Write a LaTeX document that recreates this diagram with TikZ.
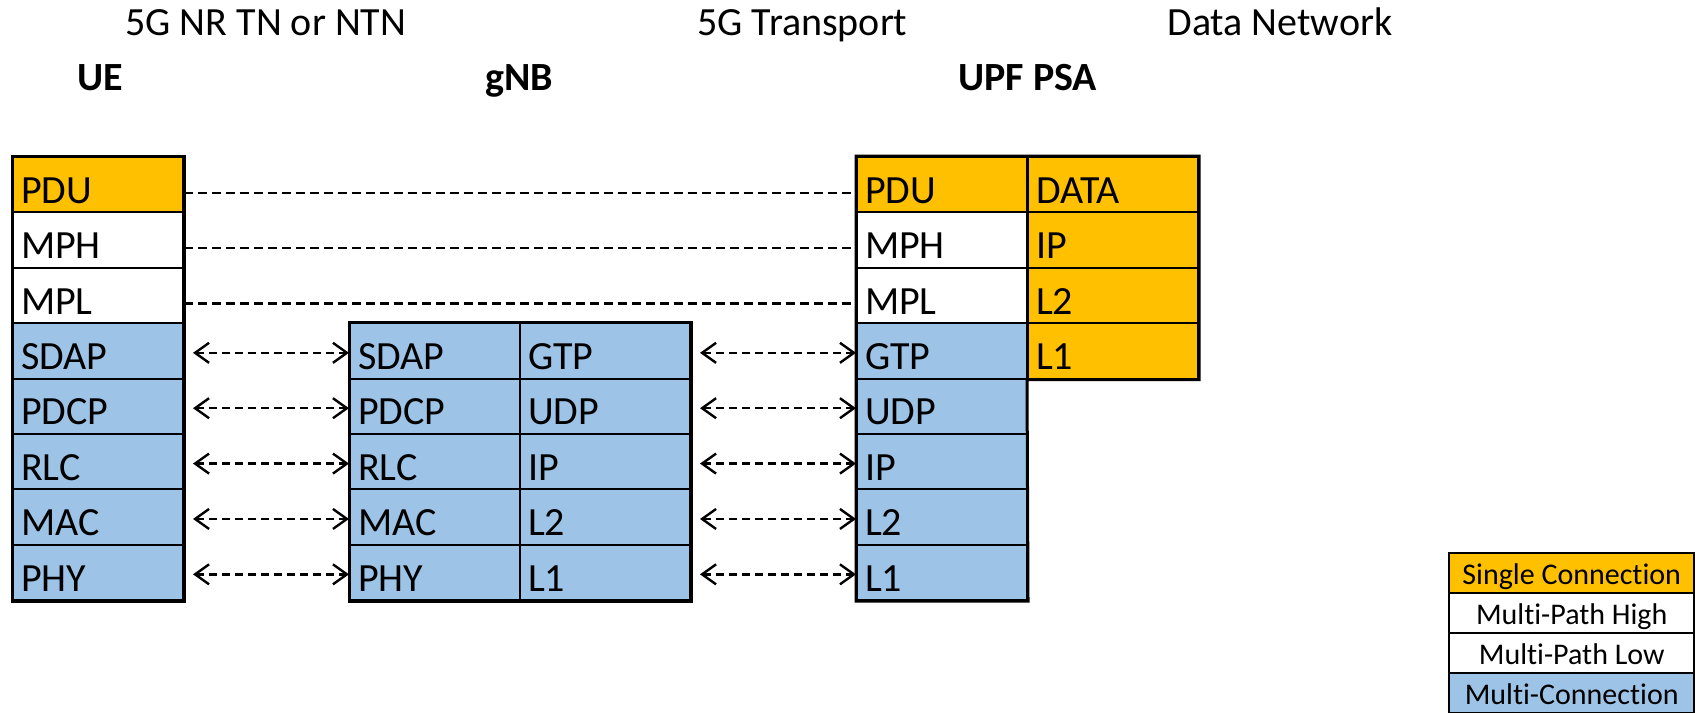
\documentclass[tikz,border=0pt]{standalone}
\usepackage{fontspec}
\setmainfont[Ligatures=NoCommon]{Carlito}
\usetikzlibrary{arrows.meta}

\definecolor{single}{HTML}{FFC000}
\definecolor{multi}{HTML}{9DC3E6}

\tikzset{
  % one layer of a protocol stack
  cell/.style={draw=black, line width=1pt, anchor=north west,
    inner xsep=4pt, inner ysep=0pt, minimum width=85pt,
    text width=77pt, align=left, text height=23.2pt, text depth=4.5pt,
    font=\fontsize{20pt}{24pt}\selectfont},
  sc/.style={cell, fill=single},
  mp/.style={cell, fill=white},
  mc/.style={cell, fill=multi},
  frame/.style={draw=black, line width=1.5pt},
  % legend entries
  key/.style={draw=black, line width=1.2pt, anchor=north west,
    inner xsep=2pt, inner ysep=0pt, minimum width=122.5pt,
    text height=15.5pt, text depth=4.5pt,
    font=\fontsize{15pt}{18pt}\selectfont},
  heading/.style={anchor=base west, inner sep=0pt,
    font=\fontsize{20pt}{24pt}\selectfont},
  entity/.style={heading, font=\fontsize{20pt}{24pt}\selectfont\bfseries},
  peer/.style={line width=1.1pt, dash pattern=on 4.5pt off 2.5pt},
  hop/.style={line width=1.2pt, dash pattern=on 4pt off 2.5pt,
    {Straight Barb[length=7pt, width=10pt]}-{Straight Barb[length=7pt, width=10pt]},
    shorten <=4.5pt},
}

\begin{document}
\begin{tikzpicture}[x=0.5pt, y=-0.5pt]
\useasboundingbox (0,0) rectangle (1695,712);

% headings
\node[heading] (hnr) at (125,35) {5G NR TN or NTN};
\node[heading] (htr) at (697,35) {5G Transport};
\node[heading] (hdn) at (1167,35) {Data Network};
\node[entity] (hue) at (77,90) {UE};
\node[entity] (hgnb) at (485,90) {gNB};
\node[entity] (hupf) at (958,90) {UPF PSA};

% UE stack
\node[sc] (ue1) at (12,156) {PDU};
\node[mp] (ue2) at (12,211.375) {MPH};
\node[mp] (ue3) at (12,266.75) {MPL};
\node[mc] (ue4) at (12,322.125) {SDAP};
\node[mc] (ue5) at (12,377.5) {PDCP};
\node[mc] (ue6) at (12,432.875) {RLC};
\node[mc] (ue7) at (12,488.25) {MAC};
\node[mc] (ue8) at (12,543.625) {PHY};
\draw[frame] (ue1.north west) rectangle (ue8.south east);

% gNB stack
\node[mc] (gnb4) at (349,322.125) {SDAP};
\node[mc] (gnb5) at (349,377.5) {PDCP};
\node[mc] (gnb6) at (349,432.875) {RLC};
\node[mc] (gnb7) at (349,488.25) {MAC};
\node[mc] (gnb8) at (349,543.625) {PHY};
\node[mc] (gtr4) at (519,322.125) {GTP};
\node[mc] (gtr5) at (519,377.5) {UDP};
\node[mc] (gtr6) at (519,432.875) {IP};
\node[mc] (gtr7) at (519,488.25) {L2};
\node[mc] (gtr8) at (519,543.625) {L1};
\draw[frame] (gnb4.north west) rectangle (gtr8.south east);

% UPF PSA stack
\node[sc] (upf1) at (856,156) {PDU};
\node[mp] (upf2) at (856,211.375) {MPH};
\node[mp] (upf3) at (856,266.75) {MPL};
\node[mc] (upf4) at (856,322.125) {GTP};
\node[mc] (upf5) at (856,377.5) {UDP};
\node[mc] (upf6) at (856,432.875) {IP};
\node[mc] (upf7) at (856,488.25) {L2};
\node[mc] (upf8) at (856,543.625) {L1};
\node[sc] (dn1) at (1027,156) {DATA};
\node[sc] (dn2) at (1027,211.375) {IP};
\node[sc] (dn3) at (1027,266.75) {L2};
\node[sc] (dn4) at (1027,322.125) {L1};
\draw[frame] (upf1.north west) -- (dn1.north east) -- (dn4.south east)
  -- (dn4.south west) -- (upf8.south east) -- (upf8.south west) -- cycle;

% end-to-end peers
\draw[peer] ([yshift=-4pt]ue1.east) -- ([yshift=-4pt]upf1.west);
\draw[peer] ([yshift=-4pt]ue2.east) -- ([yshift=-4pt]upf2.west);
\draw[peer] ([yshift=-4pt]ue3.east) -- ([yshift=-4pt]upf3.west);

% hop-by-hop peers
\foreach \r in {4,...,8} {
  \draw[hop] ([yshift=-1pt]ue\r.east) -- ([yshift=-1pt]gnb\r.west);
  \draw[hop] ([yshift=-1pt]gtr\r.east) -- ([yshift=-1pt]upf\r.west);
}

% legend
\node[key, fill=single] (k1) at (1448,552) {Single Connection};
\node[key, fill=white] (k2) at (1448,592) {Multi-Path High};
\node[key, fill=white] (k3) at (1448,632) {Multi-Path Low};
\node[key, fill=multi] (k4) at (1448,672) {Multi-Connection};
\end{tikzpicture}
\end{document}
